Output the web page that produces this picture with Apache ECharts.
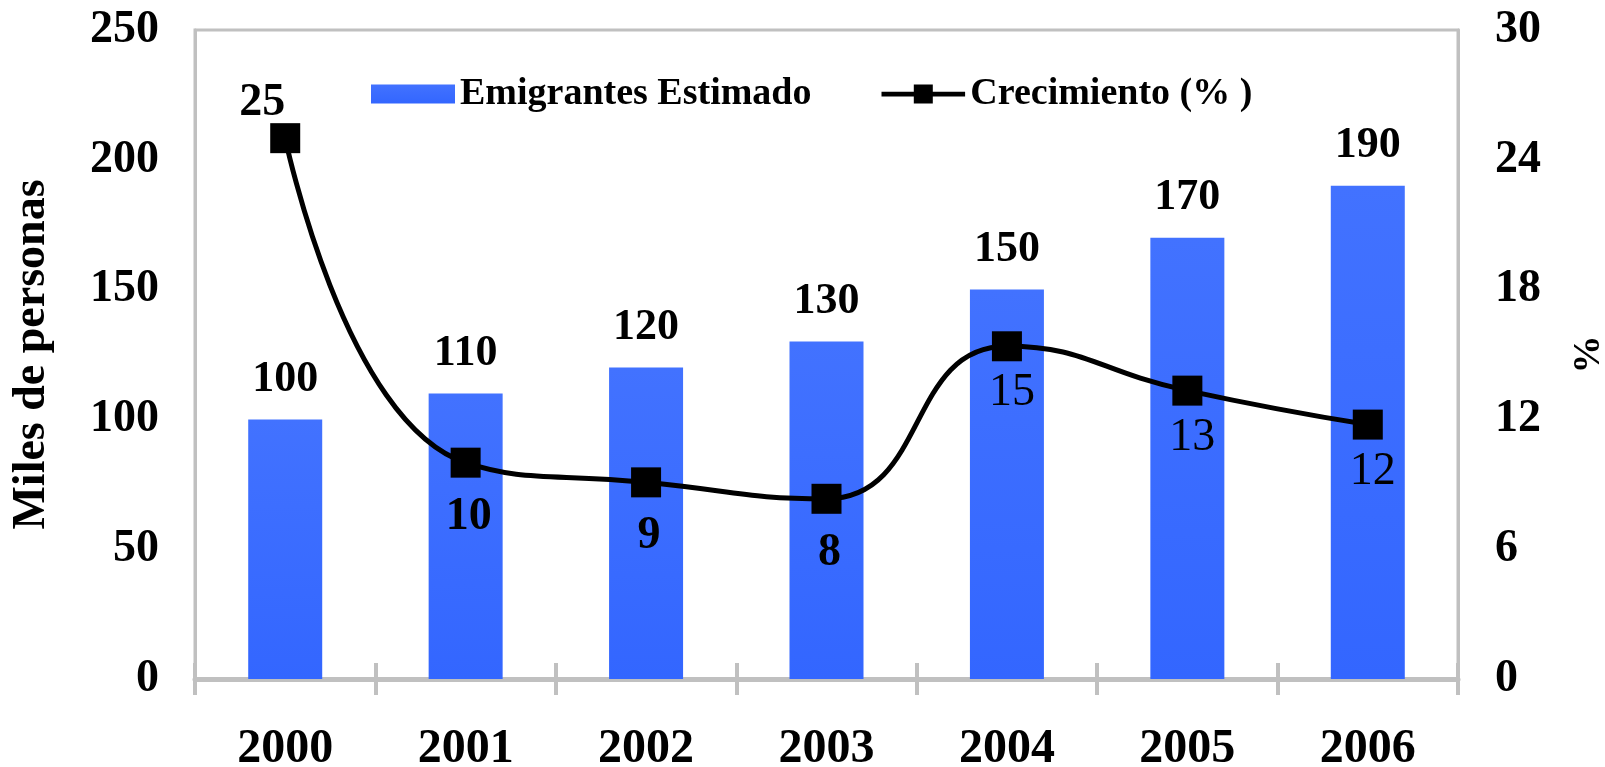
<!DOCTYPE html>
<html>
<head>
<meta charset="utf-8">
<style>
    html, body { margin: 0; padding: 0; background: #fff; }
    #chart { width: 1605px; height: 767px; }
</style>
<script src="https://cdn.jsdelivr.net/npm/echarts@6/dist/echarts.min.js"></script>
</head>
<body>
<div id="chart"></div>
<script>
    // datos
    const years = ['2000', '2001', '2002', '2003', '2004', '2005', '2006'];
    const emigrantes = [100, 110, 120, 130, 150, 170, 190];
    const crecimiento = [25, 10, 9.09, 8.33, 15.38, 13.33, 11.76];
    const leftTicks = { min: 0, max: 250, interval: 50 };
    const rightTicks = { min: 0, max: 30, interval: 6 };

    const FONT = "'Liberation Serif', 'Times New Roman', serif";

    let chart = echarts.init(document.getElementById('chart'));

    // etiquetas de la linea: las primeras van en negrita y un poco mas abajo
    let lineData = crecimiento.map((v, i) => {
        let label;
        if (i === 0) {
            label = { position: 'top', distance: -3, offset: [-23, 0], fontWeight: 'bold' };
        } else if (i < 4) {
            label = { position: 'bottom', distance: 16, offset: [3, 0], fontWeight: 'bold' };
        } else {
            label = { position: 'bottom', distance: 9, offset: [5, 0], fontWeight: 'normal' };
        }
        return { value: v, label: label };
    });

    // iconos de leyenda
    const barIcon = 'path://M0,0L84,0L84,19L0,19Z';
    const lineIcon = 'path://M0,7.5L34,7.5L34,0L54,0L54,7.5L88,7.5L88,12.5L54,12.5L54,20L34,20L34,12.5L0,12.5Z';

    let option = {
        animation: false,
        textStyle: { fontFamily: FONT },
        grid: {
            left: 195, right: 147, top: 30, bottom: 88,
            outerBoundsMode: 'none', containLabel: false,
            show: true, borderColor: '#C0C0C0', borderWidth: 3
        },
        legend: {
            left: 366, top: 70,
            itemWidth: 84, itemHeight: 19, itemGap: 70,
            textStyle: { fontFamily: FONT, fontSize: 38, fontWeight: 'bold', color: '#000' },
            data: [
                { name: 'Emigrantes Estimado', icon: barIcon },
                { name: 'Crecimiento (% )', icon: lineIcon }
            ]
        },
        xAxis: [
            {
                type: 'category', data: years, position: 'bottom',
                axisLine: { lineStyle: { color: '#C0C0C0', width: 5 } },
                axisTick: { show: true, length: 16, lineStyle: { color: '#C0C0C0', width: 4 } },
                axisLabel: { margin: 47, fontSize: 48, fontWeight: 'bold', color: '#000', fontFamily: FONT }
            },
            {
                // solo para las marcas hacia adentro
                type: 'category', data: years, position: 'bottom', offset: 0,
                axisLine: { show: false },
                axisTick: { show: true, inside: true, length: 16, lineStyle: { color: '#C0C0C0', width: 4 } },
                axisLabel: { show: false }
            }
        ],
        yAxis: [
            {
                type: 'value', min: leftTicks.min, max: leftTicks.max, interval: leftTicks.interval,
                name: 'Miles de personas', nameLocation: 'middle', nameGap: 140, nameRotate: 90,
                nameTextStyle: { fontSize: 46, fontWeight: 'bold', color: '#000', fontFamily: FONT },
                axisLine: { show: true, lineStyle: { color: '#C0C0C0', width: 3 } },
                axisTick: { show: false },
                splitLine: { show: false },
                axisLabel: { margin: 36, fontSize: 46, fontWeight: 'bold', color: '#000', fontFamily: FONT }
            },
            {
                type: 'value', min: rightTicks.min, max: rightTicks.max, interval: rightTicks.interval,
                name: '%', nameLocation: 'middle', nameGap: 112, nameRotate: 90,
                nameTextStyle: { fontSize: 38, fontWeight: 'bold', color: '#000', fontFamily: FONT },
                axisLine: { show: true, lineStyle: { color: '#C0C0C0', width: 3 } },
                axisTick: { show: false },
                splitLine: { show: false },
                axisLabel: { margin: 37, fontSize: 46, fontWeight: 'bold', color: '#000', fontFamily: FONT }
            }
        ],
        series: [
            {
                name: 'Emigrantes Estimado',
                type: 'bar',
                barWidth: 74,
                itemStyle: {
                    color: new echarts.graphic.LinearGradient(0, 0, 0, 1, [
                        { offset: 0, color: '#4272FF' },
                        { offset: 1, color: '#3366FF' }
                    ])
                },
                label: {
                    show: true, position: 'top', distance: 18,
                    fontSize: 44, fontWeight: 'bold', color: '#000', fontFamily: FONT
                },
                data: emigrantes
            },
            {
                name: 'Crecimiento (% )',
                type: 'line',
                yAxisIndex: 1,
                smooth: 0.5,
                symbol: 'rect',
                symbolSize: 30,
                lineStyle: { color: '#000', width: 5 },
                itemStyle: { color: '#000' },
                label: {
                    show: true, fontSize: 46, color: '#000', fontFamily: FONT,
                    formatter: p => Math.round(p.value)
                },
                z: 5,
                data: lineData
            }
        ]
    };
    chart.setOption(option);
</script>
</body>
</html>
